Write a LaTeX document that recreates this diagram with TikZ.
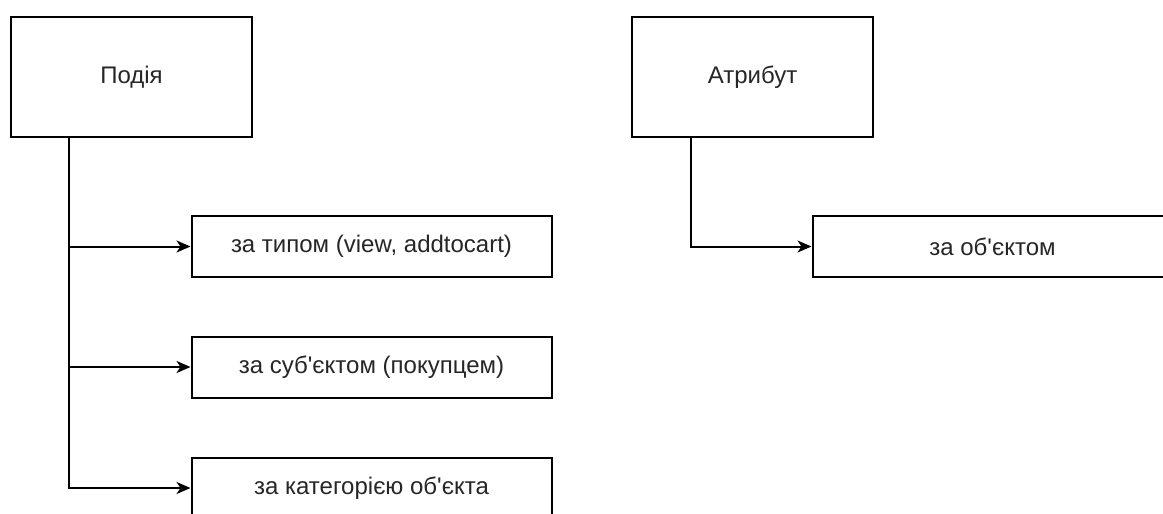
\documentclass[tikz,border=0pt]{standalone}
\usepackage{fontspec}
\setmainfont[Ligatures=TeXOff]{Liberation Sans}
\usetikzlibrary{arrows.meta}
\begin{document}
\begin{tikzpicture}[x=1pt,y=-1pt,
  box/.style={draw=black,line width=2pt,fill=white,minimum width=#1,inner sep=0pt,
    font=\fontsize{24}{28}\selectfont,text=black!85},
  box/.default=360pt,
  arr/.style={line width=2pt,-{Stealth[length=14pt,width=12pt,inset=4pt]}}]
\clip (0,0) rectangle (1163,514);
\fill[white] (0,0) rectangle (1163,514);
\node[box=241pt,minimum height=120pt] (podia) at (131.5,77) {Подія};
\node[box=241pt,minimum height=120pt] (attr) at (752.5,77) {Атрибут};
\node[box,minimum height=61pt] (typ) at (371.5,246.5) {за типом (view, addtocart)};
\node[box,minimum height=61pt] (sub) at (371.5,367) {за суб'єктом (покупцем)};
\node[box,minimum height=61pt] (kat) at (371.5,488) {за категорією об'єкта};
\node[box,minimum height=61pt] (obj) at (992.5,246.5) {за об'єктом};
\draw[arr] ([xshift=59pt]podia.south west) |- (typ.west);
\draw[arr] ([xshift=59pt]podia.south west) |- (sub.west);
\draw[arr] ([xshift=59pt]podia.south west) |- (kat.west);
\draw[arr] ([xshift=60pt]attr.south west) |- (obj.west);
\end{tikzpicture}
\end{document}
